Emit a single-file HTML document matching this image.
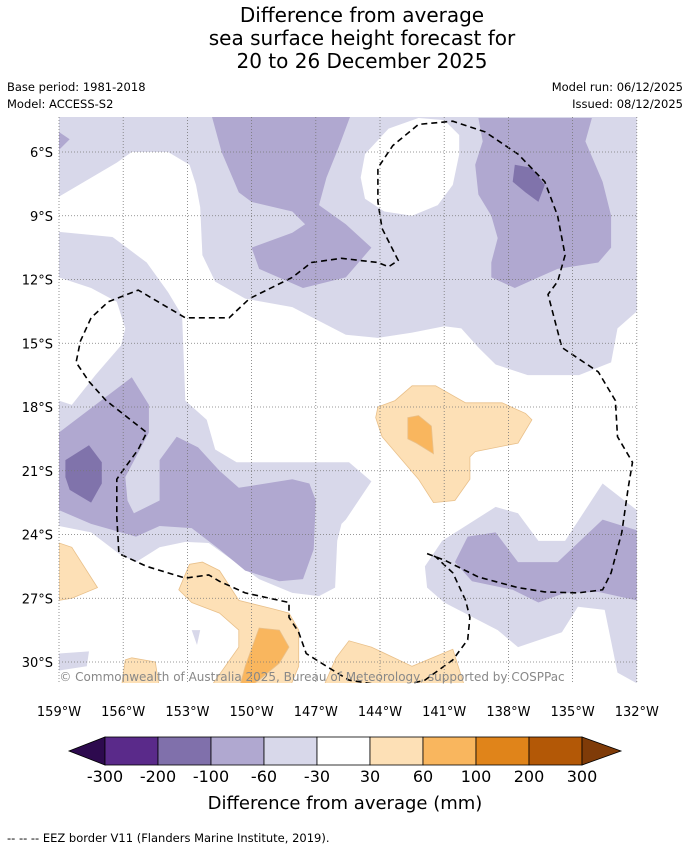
<!DOCTYPE html>
<html><head><meta charset="utf-8">
<style>
body{margin:0;background:#fff;width:690px;height:850px;overflow:hidden;font-family:"DejaVu Sans","Liberation Sans",sans-serif;}
svg{position:absolute;left:0;top:0;}
</style></head>
<body>
<svg id="chart" width="690" height="850" viewBox="0 0 690 850">
  <text x="362" y="22" font-size="20" text-anchor="middle">Difference from average</text>
  <text x="362" y="45" font-size="20" text-anchor="middle">sea surface height forecast for</text>
  <text x="362" y="68" font-size="20" text-anchor="middle">20 to 26 December 2025</text>
  <text x="7" y="91" font-size="11.5">Base period: 1981-2018</text>
  <text x="7" y="108" font-size="11.5">Model: ACCESS-S2</text>
  <text x="683" y="91" font-size="11.5" text-anchor="end">Model run: 06/12/2025</text>
  <text x="683" y="108" font-size="11.5" text-anchor="end">Issued: 08/12/2025</text>
  <defs><clipPath id="mapclip"><rect x="59" y="117" width="578" height="566"/></clipPath></defs>
  <g id="map" clip-path="url(#mapclip)"></g>
  <g id="grid"></g>
  <g id="axes"></g>
  <text x="312" y="681" font-size="12" fill="#888" text-anchor="middle">© Commonwealth of Australia 2025, Bureau of Meteorology, supported by COSPPac</text>
  <g id="cbar"></g>
  <text x="345" y="809" font-size="18" text-anchor="middle">Difference from average (mm)</text>
  <text x="7" y="842" font-size="11.5">--  --  -- EEZ border V11 (Flanders Marine Institute, 2019).</text>
</svg>
<script>
const lonTicks = [159,156,153,150,147,144,141,138,135,132];
const latTicks = [6,9,12,15,18,21,24,27,30];
const cbLevels = ["-300","-200","-100","-60","-30","30","60","100","200","300"];
const cbColors = ["#5a2a8a","#8070ab","#b0a8d0","#d8d8ea","#ffffff","#fde0b6","#f9b65e","#e0841a","#b35806"];
const cbEnds = ["#2d0a4e","#7f3b08"];

const regLav1 = [[159,4.35],[132,4.35],[132,13.5],[132.9,14.3],[133.2,15.9],[134.7,16.5],[137.1,16.5],[138.6,16.0],[139.4,15.2],[140.2,14.3],[141.0,14.2],[142.5,14.5],[144.1,14.75],[145.6,14.6],[148.1,13.3],[150.3,12.9],[151.7,12.1],[152.3,10.85],[152.4,8.6],[152.6,7.55],[152.9,6.6],[153.9,6.0],[155.6,6.0],[156.3,6.5],[159,8.1]];
const regWhiteCircle = [[144.9,7.2],[144.7,6.1],[143.6,4.9],[142.2,4.4],[141.0,4.5],[140.3,5.2],[140.3,6.1],[140.6,7.55],[141.3,8.5],[142.5,9.0],[143.8,8.8],[144.7,8.2]];
const regPurpCorner = [[159,5.06],[158.5,5.4],[159,5.9]];
const regPurp1 = [[151.85,4.35],[145.4,4.35],[145.9,5.7],[146.5,7.2],[146.85,8.5],[145.6,9.4],[144.4,10.5],[145.6,11.9],[147.6,12.4],[149.65,11.5],[150.0,10.5],[148.1,9.8],[147.5,9.4],[148.1,8.8],[150.0,8.35],[150.6,7.9],[151.4,6.0]];
const regPurp2 = [[139.4,4.4],[134.1,4.4],[134.4,5.5],[133.6,7.4],[133.2,9.0],[133.2,10.5],[133.8,11.2],[135.7,11.5],[136.6,11.9],[137.7,12.4],[138.8,11.9],[138.8,11.2],[138.5,10.05],[138.8,9.0],[139.4,8.0],[139.55,6.6],[139.2,5.5]];
const regDark1 = [[137.7,6.6],[136.9,6.75],[136.3,7.55],[136.6,8.35],[137.2,7.9],[137.8,7.4]];
const regLav2 = [[159,9.76],[156.5,10.0],[154.9,11.2],[153.9,12.6],[153.25,13.7],[153.1,17.7],[152.1,18.6],[151.7,20.0],[150.7,20.6],[147.8,20.6],[146.5,20.6],[145.45,20.6],[144.4,21.5],[145.6,23.3],[145.8,23.5],[146.0,24.3],[146.1,26.5],[146.85,26.9],[148.1,26.75],[149.65,26.1],[150.9,25.2],[152.0,24.4],[153.1,24.35],[154.3,24.6],[155.4,25.3],[156.2,24.9],[157.5,23.9],[159,23.6]];
const regWhiteBlob = [[159,11.9],[157.5,12.4],[156.3,13.05],[155.9,14.3],[156.1,15.1],[157.3,16.5],[158.4,17.9],[159,17.7]];
const regPurp3 = [[159,19.2],[157.3,17.9],[155.6,16.6],[154.8,17.9],[154.8,19.2],[155.4,20.35],[155.9,21.3],[155.8,22.4],[155.5,23.0],[154.3,22.4],[154.3,20.5],[153.5,19.4],[152.5,19.9],[151.5,21.0],[150.6,21.8],[148.1,21.4],[147.3,21.6],[147.0,22.4],[147.1,24.7],[147.6,26.1],[148.7,26.2],[150.3,25.7],[151.5,24.7],[152.8,23.7],[154.3,23.6],[155.4,24.1],[157.5,23.5],[159,22.85]];
const regDark2 = [[158.7,20.5],[157.6,19.8],[157.0,20.6],[157.0,21.6],[157.5,22.5],[158.5,21.9],[158.7,21.3]];
const regLav3 = [[141.9,25.5],[141.1,24.3],[138.6,22.7],[137.55,23.0],[136.6,24.3],[135.35,24.3],[133.6,21.6],[132,22.85],[132,31],[132.9,30.5],[133.5,27.55],[134.75,27.4],[135.5,28.6],[137.55,29.3],[138.5,28.5],[141.0,27.2],[141.8,26.5]];
const regPurp4 = [[140.5,25.3],[139.9,24.1],[138.6,23.9],[137.55,25.3],[135.7,25.3],[133.6,23.3],[132,23.8],[132,27.1],[133.8,26.7],[135.35,26.75],[136.6,27.2],[137.8,26.6],[139.7,26.2]];
const regLav4 = [[159,29.6],[157.6,29.5],[157.7,30.2],[159,30.4]];
const regLav5 = [[152.8,28.5],[152.4,28.5],[152.55,29.2]];
const regOr1 = [[159,24.4],[158.4,24.6],[157.2,26.5],[158.4,27.0],[159,27.1]];
const regOr2 = [[152.9,25.4],[152.3,25.3],[151.5,25.7],[150.6,27.1],[149.0,27.5],[148.25,27.7],[147.8,28.5],[147.8,30.2],[148.25,31.3],[152.0,31.3],[150.6,29.3],[150.6,28.5],[151.5,27.7],[152.8,27.2],[153.4,26.6]];
const regOr3 = [[155.9,29.9],[155.6,29.8],[154.5,30.0],[154.3,31.3],[156.1,31.3]];
const regOr4 = [[146.7,31.3],[146.05,29.8],[145.45,29.0],[144.4,29.3],[142.5,30.2],[140.6,29.4],[140.0,31.3]];
const regOr5 = [[144.2,18.5],[144.1,18.0],[143.3,17.7],[142.5,17.0],[141.4,17.0],[140.0,17.8],[139.4,17.8],[138.3,17.8],[137.2,18.3],[136.9,18.6],[137.55,19.7],[139.55,20.1],[139.8,20.35],[139.8,21.4],[140.5,22.4],[141.5,22.5],[142.2,21.4],[143.9,19.4]];
const regDkOr1 = [[142.7,18.5],[142.2,18.4],[141.6,18.9],[141.5,20.2],[142.3,19.7],[142.7,19.5]];
const regDkOr2 = [[149.65,28.4],[148.7,28.5],[148.25,29.3],[148.7,30.05],[149.65,30.85],[150.3,31.3],[150.6,31.3],[150.3,30.2]];
const eezLine = [[141.8,24.9],[141.0,25.2],[139.4,26.0],[137.55,26.5],[136.3,26.7],[134.75,26.75],[133.6,26.6],[133.2,25.8],[132.7,23.9],[132.4,21.8],[132.2,20.6],[132.9,19.4],[133.0,17.7],[133.8,16.35],[135.5,15.2],[136.15,12.7],[135.7,12.1],[135.35,10.85],[135.7,9.0],[136.3,7.4],[137.55,6.1],[139.1,5.05],[140.6,4.55],[142.2,4.7],[143.4,5.7],[144.1,6.75],[144.1,8.35],[143.9,9.6],[143.15,11.1],[143.6,11.4],[144.1,11.2],[145.8,11.0],[147.2,11.2],[148.1,11.9],[150.1,12.9],[151.05,13.8],[153.1,13.8],[155.3,12.5],[156.7,13.05],[157.5,13.8],[158.0,14.9],[158.2,15.9],[157.6,16.8],[156.8,17.7],[154.9,19.2],[155.3,20.0],[156.1,21.1],[156.3,21.4],[156.3,23.2],[156.2,24.9],[154.9,25.5],[153.1,26.05],[152.0,25.9],[151.5,26.2],[150.3,26.75],[148.25,27.2],[148.25,27.9],[147.8,28.6],[147.45,29.6],[146.5,30.2],[145.45,30.85],[143.3,31.2],[141.9,30.85],[140.6,29.9],[139.9,28.95],[139.8,27.9],[140.0,27.1],[140.6,25.8],[141.4,25.05]];

const X0=59, PXDEG_X=21.4, Y0=152, PXDEG_Y=21.25;
function xScale(lonW){return X0+(159-lonW)*PXDEG_X;}
function yScale(latS){return Y0+(latS-6)*PXDEG_Y;}
const NS="http://www.w3.org/2000/svg";
function mk(tag,attrs,parent){const e=document.createElementNS(NS,tag);for(const k in attrs)e.setAttribute(k,attrs[k]);parent.appendChild(e);return e;}
function pts(arr){return arr.map(p=>xScale(p[0]).toFixed(1)+","+yScale(p[1]).toFixed(1)).join(" ");}

const map=document.getElementById("map");
const bg=mk("rect",{x:59,y:117,width:578,height:566,fill:"#ffffff"},map);


const layers=[
 ["lavender-region-north",regLav1,"#d8d8ea"],
 ["white-region-north",regWhiteCircle,"#ffffff"],
 ["purple-region-corner",regPurpCorner,"#b0a8d0"],
 ["purple-region-north-central",regPurp1,"#b0a8d0"],
 ["purple-region-north-east",regPurp2,"#b0a8d0"],
 ["dark-purple-region-north-east",regDark1,"#8073ab"],
 ["lavender-region-west",regLav2,"#d8d8ea"],
 ["white-region-west",regWhiteBlob,"#ffffff"],
 ["purple-region-west",regPurp3,"#b0a8d0"],
 ["dark-purple-region-west",regDark2,"#8073ab"],
 ["lavender-region-south-east",regLav3,"#d8d8ea"],
 ["purple-region-south-east",regPurp4,"#b0a8d0"],
 ["lavender-region-south-west",regLav4,"#d8d8ea"],
 ["lavender-region-small",regLav5,"#d8d8ea"],
 ["light-orange-region-west",regOr1,"#fde0b6"],
 ["light-orange-region-south",regOr2,"#fde0b6"],
 ["light-orange-region-south-west",regOr3,"#fde0b6"],
 ["light-orange-region-south-central",regOr4,"#fde0b6"],
 ["light-orange-region-central",regOr5,"#fde0b6"],
 ["orange-region-central",regDkOr1,"#f9b65e"],
 ["orange-region-south",regDkOr2,"#f9b65e"]
];
layers.forEach(l=>{
  const stroke = l[2]==="#fde0b6"||l[2]==="#f9b65e" ? "#e9c08a" : "none";
  const p=mk("polygon",{points:pts(l[1]),fill:l[2],stroke:stroke,"stroke-width":0.8},map);
  
  
});
const eez=mk("polygon",{points:pts(eezLine),fill:"none",stroke:"#000","stroke-width":1.6,"stroke-dasharray":"6,4"},map);



const grid=document.getElementById("grid"), axes=document.getElementById("axes");
lonTicks.forEach(v=>{
  const x=xScale(v);
  const gl=mk("line",{x1:x,y1:117,x2:x,y2:683,stroke:"#777","stroke-width":0.8,"stroke-dasharray":"1,2"},grid);
  
  
  const t=mk("text",{x:x,y:716,"font-size":13,"text-anchor":"middle"},axes);
  t.textContent=v+"°W";
  
  
});
latTicks.forEach(v=>{
  const y=yScale(v);
  const gl=mk("line",{x1:59,y1:y,x2:637,y2:y,stroke:"#777","stroke-width":0.8,"stroke-dasharray":"1,2"},grid);
  
  
  const t=mk("text",{x:53,y:y+5,"font-size":13,"text-anchor":"end"},axes);
  t.textContent=v+"°S";
  
  
});

const cb=document.getElementById("cbar");
const cbX0=105, cbW=53, cbY=737, cbH=28;
const lt=mk("polygon",{points:`${cbX0},${cbY} ${cbX0},${cbY+cbH} 69,${cbY+cbH/2}`,fill:cbEnds[0],stroke:"#000","stroke-width":0.8},cb);


cbColors.forEach((c,i)=>{
  const r=mk("rect",{x:cbX0+i*cbW,y:cbY,width:cbW,height:cbH,fill:c,stroke:"#000","stroke-width":0.8},cb);
  
  
});
const xe=cbX0+cbColors.length*cbW;
const rt=mk("polygon",{points:`${xe},${cbY} ${xe},${cbY+cbH} 621,${cbY+cbH/2}`,fill:cbEnds[1],stroke:"#000","stroke-width":0.8},cb);


cbLevels.forEach((v,i)=>{
  const t=mk("text",{x:cbX0+i*cbW,y:782,"font-size":16,"text-anchor":"middle"},cb);
  t.textContent=v;
  
  
});
</script>
</body></html>
